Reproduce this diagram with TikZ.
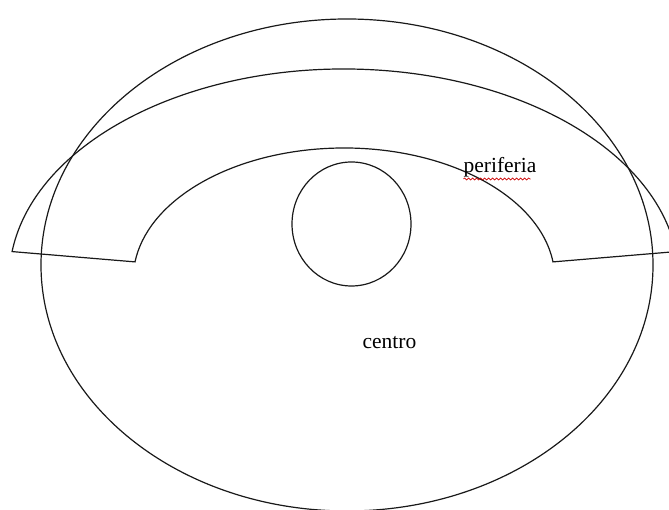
\documentclass[tikz,border=0pt]{standalone}
\usepackage{fontspec}
\setmainfont{Liberation Serif}
\usetikzlibrary{calc,decorations.pathmorphing}
\tikzset{
  shape line/.style={line width=1.2pt,black!90},
  label text/.style={inner sep=0pt,font=\fontsize{21.5}{25}\selectfont},
  spell/.style={red!80!black,line width=0.6pt,decorate,decoration={snake,amplitude=1pt,segment length=4pt}}
}
\begin{document}
\begin{tikzpicture}[x=1pt,y=1pt]
\useasboundingbox (0,0) rectangle (669,510);
% big oval
\draw[shape line] (347,245) ellipse[x radius=306,y radius=246];
% small circle
\draw[shape line] (351.5,286) ellipse[x radius=59.5,y radius=62];
% band
\coordinate (bc) at (344,231);
\draw[shape line] ($(bc)+(172.5:334.8 and 210)$)
  arc[start angle=172.5,end angle=7.5,x radius=334.8,y radius=210]
  -- ($(bc)+(7.5:210.8 and 131)$)
  arc[start angle=7.5,end angle=172.5,x radius=210.8,y radius=131]
  -- cycle;

\node[label text,anchor=base] (per) at (500,337) {periferia};
\node[label text,anchor=base] (cen) at (389.5,161) {centro};
\draw[spell] ([yshift=-6pt]per.base west) -- ([yshift=-6pt,xshift=-6pt]per.base east);
\end{tikzpicture}
\end{document}
